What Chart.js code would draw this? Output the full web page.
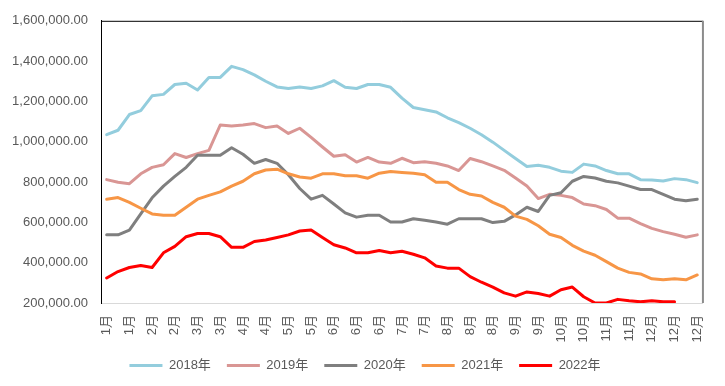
<!DOCTYPE html>
<html><head><meta charset="utf-8">
<script src="https://cdn.jsdelivr.net/npm/chart.js@4"></script>
<style>html,body{margin:0;padding:0;background:#fff}#wrap{width:725px;height:386px}</style>
</head><body><div id="wrap"><canvas id="c" width="725" height="386"></canvas></div>
<script>
const weekLabels = ['1月','1月','1月','2月','2月','2月','2月','3月','3月','3月','3月','4月','4月','4月','4月','5月','5月','5月','5月','5月','6月','6月','6月','6月','6月','7月','7月','7月','7月','8月','8月','8月','8月','8月','8月','9月','9月','9月','9月','10月','10月','10月','10月','11月','11月','11月','11月','12月','12月','12月','12月','12月','12月'];
const seriesNames = ['2018年','2019年','2020年','2021年','2022年'];
const y2018 = [1035000,1057000,1135000,1154000,1228000,1235000,1284000,1290000,1257000,1319000,
 1319000,1374000,1358000,1332000,1300000,1272000,1264000,1272000,1264000,1277000,
 1303000,1270000,1264000,1284000,1284000,1270000,1216000,1170000,1159000,1148000,
 1119000,1095000,1067000,1035000,998000,957000,917000,877000,883000,873000,
 854000,848000,889000,880000,857000,841000,841000,812000,810000,805000,
 817000,812000,797000];
const y2019 = [812000,799000,792000,841000,873000,886000,941000,922000,941000,957000,
 1083000,1078000,1083000,1090000,1070000,1078000,1041000,1067000,1022000,974000,
 928000,935000,899000,922000,899000,893000,918000,896000,901000,893000,
 880000,857000,917000,901000,880000,858000,820000,780000,718000,739000,
 734000,723000,691000,683000,664000,621000,621000,594000,570000,554000,
 541000,526000,538000];
const y2020 = [538000,538000,562000,642000,722000,780000,828000,873000,933000,933000,
 933000,970000,938000,893000,912000,893000,836000,768000,715000,734000,
 691000,647000,626000,635000,635000,602000,602000,618000,610000,602000,
 591000,618000,618000,618000,599000,605000,637000,675000,654000,734000,
 747000,804000,828000,820000,804000,796000,780000,763000,763000,739000,
 715000,707000,715000];
const y2021 = [715000,723000,699000,670000,642000,635000,635000,675000,715000,734000,
 751000,780000,804000,841000,860000,864000,841000,825000,819000,841000,
 841000,831000,831000,819000,844000,852000,848000,844000,836000,799000,
 799000,763000,739000,731000,699000,675000,631000,615000,583000,541000,
 525000,486000,457000,437000,405000,373000,352000,344000,320000,315000,
 320000,315000,339000];
const y2022 = [324000,356000,376000,386000,376000,449000,481000,529000,545000,545000,
 529000,476000,476000,505000,513000,525000,538000,557000,562000,525000,
 489000,473000,449000,449000,460000,449000,457000,442000,424000,384000,
 373000,373000,331000,303000,279000,250000,234000,255000,247000,234000,
 266000,279000,231000,200000,200000,218000,211000,206000,211000,206000,
 206000,null,null];
const yTicks = [200000,400000,600000,800000,1000000,1200000,1400000,1600000];

const colors = ['#93CDDD','#D99694','#7F7F7F','#F79646','#FF0000'];
const allSeries = [y2018,y2019,y2020,y2021,y2022];
const FONT = "'Liberation Sans', 'Noto Sans CJK SC', sans-serif";

const frame = {
  id: 'frame',
  afterLayout(chart) {
    if (chart.legend) { chart.legend.left += 10; chart.legend.right += 10; }
  },
  afterDraw(chart) {
    const {ctx, chartArea: a} = chart;
    ctx.save();
    ctx.strokeStyle = '#000'; ctx.lineWidth = 1;
    ctx.beginPath(); ctx.moveTo(a.left, a.top + 0.5); ctx.lineTo(a.right, a.top + 0.5); ctx.stroke();
    ctx.strokeStyle = '#8C8C8C'; ctx.lineWidth = 2;
    ctx.beginPath(); ctx.moveTo(a.right, a.top); ctx.lineTo(a.right, a.bottom); ctx.stroke();
    ctx.restore();
  }
};

new Chart(document.getElementById('c'), {
  type: 'line',
  data: {
    labels: weekLabels,
    datasets: allSeries.map((d, i) => ({
      label: seriesNames[i],
      data: d,
      borderColor: colors[i],
      backgroundColor: colors[i],
      borderWidth: 3,
      borderCapStyle: 'round',
      borderJoinStyle: 'round',
      pointRadius: 0,
      tension: 0,
      fill: false,
      order: 4 - i
    }))
  },
  options: {
    responsive: false,
    animation: false,
    events: [],
    layout: { padding: { top: 14, right: 15, left: 0, bottom: 4 } },
    plugins: {
      tooltip: { enabled: false },
      legend: {
        position: 'bottom',
        labels: {
          usePointStyle: true,
          pointStyle: 'line',
          pointStyleWidth: 33,
          padding: 16,
          color: '#595959',
          font: { family: FONT, size: 13 },
          sort: (a, b) => a.datasetIndex - b.datasetIndex
        }
      }
    },
    scales: {
      x: {
        offset: true,
        grid: { display: false, drawTicks: false, offset: true },
        border: { display: true, color: '#D9D9D9', width: 1 },
        ticks: {
          autoSkip: false,
          maxRotation: 90,
          minRotation: 90,
          padding: 12,
          color: '#595959',
          font: { family: FONT, size: 13 },
          callback: function(v, i) { return i % 2 === 0 ? this.getLabelForValue(v) : ''; }
        },
        afterFit(scale) { scale.height = 40; }
      },
      y: {
        min: 200000,
        max: 1600000,
        grid: { display: false, drawTicks: false },
        border: { display: true, color: '#000', width: 1 },
        afterBuildTicks(scale) { scale.ticks = yTicks.map(v => ({ value: v })); },
        ticks: {
          padding: 13,
          color: '#595959',
          font: { family: FONT, size: 13 },
          callback: v => Number(v).toLocaleString('en-US', { minimumFractionDigits: 2, maximumFractionDigits: 2 })
        },
        afterFit(scale) { scale.width = 101; }
      }
    }
  },
  plugins: [frame]
});
</script></body></html>
